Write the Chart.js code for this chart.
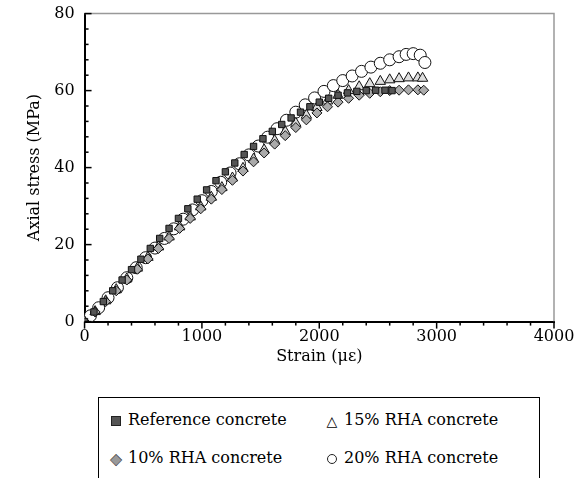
<!DOCTYPE html>
<html><head><meta charset="utf-8">
<script src="https://cdn.jsdelivr.net/npm/chart.js@4/dist/chart.umd.min.js"></script>
<style>
body{margin:0;background:#fff;font-family:"DejaVu Serif",serif;}
#wrap{position:relative;width:580px;height:366px;}
#legend{position:absolute;left:98px;top:397px;width:440px;height:90px;border:1px solid #000;font-size:16px;}
.it{position:absolute;white-space:nowrap;}
.m{display:inline-block;margin-right:5px;vertical-align:middle;width:14px;text-align:center;}
</style></head><body>
<div id="wrap"><canvas id="c" width="580" height="366"></canvas></div>
<div id="legend">
 <div class="it" style="left:10px;top:12px"><span class="m"><span style="display:inline-block;width:8px;height:8px;background:#555;border:1px solid #222"></span></span>Reference concrete</div>
 <div class="it" style="left:226px;top:12px"><span class="m" style="font-size:14px">&#9651;</span>15% RHA concrete</div>
 <div class="it" style="left:10px;top:50px"><span class="m" style="font-size:15px;color:#999;-webkit-text-stroke:0.6px #222">&#9670;</span>10% RHA concrete</div>
 <div class="it" style="left:226px;top:50px"><span class="m"><span style="display:inline-block;width:8px;height:8px;border-radius:50%;border:1.5px solid #222"></span></span>20% RHA concrete</div>
</div>
<script>
const refStrain = [0,80,160,240,320,400,480,560,640,720,800,880,960,1040,1120,1200,1280,1360,1440,1520,1600,1680,1760,1840,1920,2000,2080,2160,2240,2320,2400,2480,2560,2620];
const refStress = [0,2.5,5.2,8,10.8,13.5,16.2,19,21.6,24.2,26.8,29.3,31.8,34.2,36.6,38.9,41.2,43.4,45.5,47.5,49.4,51.2,52.9,54.4,55.8,57,58,58.8,59.4,59.8,60,60.1,60.1,60];
const r15Strain = [0,90,180,270,360,450,540,630,720,810,900,990,1080,1170,1260,1350,1440,1530,1620,1710,1800,1890,1980,2070,2160,2250,2340,2430,2520,2600,2680,2760,2840,2880];
const r15Stress = [0,2.6,5.4,8.3,11.1,13.9,16.7,19.4,22,24.6,27.2,29.8,32.3,34.8,37.3,39.8,42.2,44.6,47,49.3,51.5,53.6,55.6,57.3,58.8,60,61,61.8,62.4,62.8,63.1,63.3,63.3,63.2];
const r10Strain = [0,90,180,270,360,450,540,630,720,810,900,990,1080,1170,1260,1350,1440,1530,1620,1710,1800,1890,1980,2070,2160,2250,2340,2430,2520,2600,2680,2760,2840,2890];
const r10Stress = [0,2.5,5.2,8,10.8,13.6,16.3,19,21.6,24.2,26.8,29.3,31.8,34.3,36.7,39.1,41.5,43.8,46.1,48.3,50.4,52.4,54.2,55.8,57,58,58.8,59.3,59.7,60,60.1,60.2,60.2,60.1];
const r20Strain = [0,50,120,200,280,360,440,520,600,680,760,840,920,1000,1080,1160,1240,1320,1400,1480,1560,1640,1720,1800,1880,1960,2040,2120,2200,2280,2360,2440,2520,2600,2680,2740,2800,2860,2900];
const r20Stress = [0,1.5,3.6,6.2,8.8,11.4,14,16.6,19.1,21.6,24.1,26.6,29,31.4,33.8,36.2,38.6,41,43.3,45.6,47.9,50.1,52.3,54.4,56.3,58.1,59.8,61.3,62.6,63.8,65,66.1,67.1,68,68.8,69.4,69.6,69.2,67.3];
const xTicks = [0,1000,2000,3000,4000];
const yTicks = [0,20,40,60,80];

const pts = (xs, ys) => xs.map((x, i) => ({x: x, y: ys[i]}));
const ds = (data, style, bg, r) => ({data: data, pointStyle: style, backgroundColor: bg, borderColor: '#111',
  borderWidth: 1, pointRadius: r, showLine: false});
const font = {family: '"DejaVu Serif", serif', size: 16};
new Chart(document.getElementById('c'), {
  type: 'scatter',
  data: {datasets: [
    ds(pts(refStrain, refStress), 'rect', '#555', 4.5),
    ds(pts(r10Strain, r10Stress), 'rectRot', '#aaa', 5),
    ds(pts(r15Strain, r15Stress), 'triangle', '#ddd', 6),
    ds(pts(r20Strain, r20Stress), 'circle', '#fff', 6)
  ]},
  options: {
    responsive: false, animation: false, devicePixelRatio: 1,
    layout: {padding: {top: 6, right: 26, left: 19}},
    plugins: {legend: {display: false}, tooltip: {enabled: false}},
    scales: {
      x: {type: 'linear', min: 0, max: 4000,
        afterBuildTicks: s => { s.ticks = xTicks.map(v => ({value: v})); },
        ticks: {color: '#000', font: font, maxRotation: 0, padding: 0, callback: v => String(v)},
        grid: {display: false, tickLength: 6},
        border: {color: '#000', width: 2},
        title: {display: true, text: 'Strain (με)', color: '#000', font: font, padding: 0}},
      y: {min: 0, max: 80,
        afterBuildTicks: s => { s.ticks = yTicks.map(v => ({value: v})); },
        ticks: {color: '#000', font: font, padding: 4, callback: v => String(v)},
        grid: {display: false, tickLength: 6},
        border: {color: '#000', width: 2},
        title: {display: true, text: 'Axial stress (MPa)', color: '#000', font: font, padding: 6}}
    }
  },
  plugins: [{id: 'frame', afterDraw(c) {
    const a = c.chartArea, g = c.ctx;
    g.save(); g.strokeStyle = '#999'; g.lineWidth = 1.5;
    g.beginPath(); g.moveTo(a.left, a.top); g.lineTo(a.right, a.top); g.lineTo(a.right, a.bottom); g.stroke();
    g.strokeStyle = '#000'; g.lineWidth = 1.5;
    const xs = c.scales.x, ys = c.scales.y;
    for (let v = 0; v <= 4000; v += 200) { const p = xs.getPixelForValue(v); const l = v % 1000 ? 4 : 7;
      g.beginPath(); g.moveTo(p, a.bottom); g.lineTo(p, a.bottom + l); g.stroke(); }
    for (let v = 0; v <= 80; v += 4) { const p = ys.getPixelForValue(v); const l = v % 20 ? 4 : 7;
      g.beginPath(); g.moveTo(a.left, p); g.lineTo(a.left + l, p); g.stroke(); }
    g.restore();
  }}]
});
</script>
</body></html>
